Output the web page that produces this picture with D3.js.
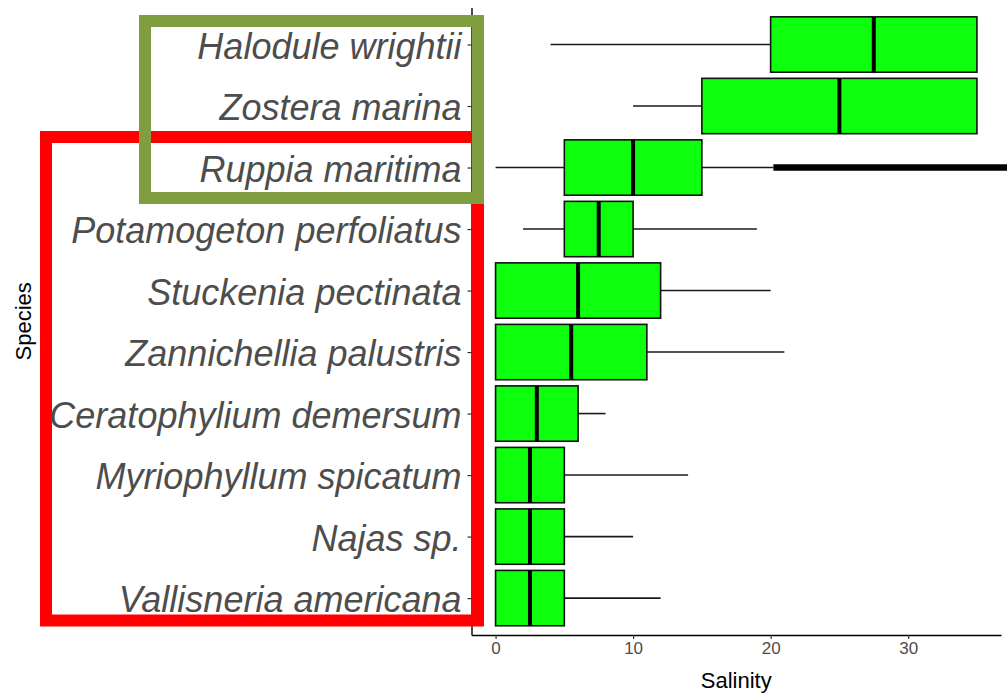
<!DOCTYPE html>
<html>
<head>
<meta charset="utf-8">
<script src="https://cdn.jsdelivr.net/npm/d3@7"></script>
<style>
  body { margin: 0; background: #fff; }
  svg { display: block; font-family: "Liberation Sans", Arial, sans-serif; }
</style>
</head>
<body>
<div class="boxChart"></div>
<script>
// species, top to bottom
var species = ["Halodule wrightii", "Zostera marina", "Ruppia maritima",
  "Potamogeton perfoliatus", "Stuckenia pectinata", "Zannichellia palustris",
  "Ceratophylium demersum", "Myriophyllum spicatum", "Najas sp.", "Vallisneria americana"];
// box stats (salinity)
var whiskerLow  = [4, 10, 0, 2, 0, 0, 0, 0, 0, 0];
var q1          = [20, 15, 5, 5, 0, 0, 0, 0, 0, 0];
var median      = [27.5, 25, 10, 7.5, 6, 5.5, 3, 2.5, 2.5, 2.5];
var q3          = [35, 35, 15, 10, 12, 11, 6, 5, 5, 5];
var whiskerHigh = [35, 35, 20.2, 19, 20, 21, 8, 14, 10, 12];
var xTicks = [0, 10, 20, 30];
// thick marker line drawn over the Ruppia row
var markerSpecies = "Ruppia maritima";
var markerFrom = 20.2, markerTo = 38;

var width = 1007, height = 694;
var plot = { left: 471.5, right: 1001, top: 7.6, bottom: 635 };

var svg = d3.select(".boxChart").append("svg")
  .attr("width", width).attr("height", height);

var x = d3.scaleLinear().domain([-1.75, 36.75]).range([plot.left, plot.right]);
var y = d3.scalePoint().domain(species).range([plot.top, plot.bottom]).padding(0.6);
var step = y.step();
var boxH = step * 0.9;

var rows = species.map(function(s, i) {
  return { name: s, lo: whiskerLow[i], q1: q1[i], med: median[i], q3: q3[i], hi: whiskerHigh[i] };
});

// whiskers
var g = svg.append("g");
rows.forEach(function(d) {
  var cy = y(d.name);
  if (d.lo < d.q1) {
    g.append("line").attr("x1", x(d.lo)).attr("x2", x(d.q1))
      .attr("y1", cy).attr("y2", cy).attr("stroke", "#1a1a1a").attr("stroke-width", 1.6);
  }
  if (d.hi > d.q3) {
    g.append("line").attr("x1", x(d.q3)).attr("x2", x(d.hi))
      .attr("y1", cy).attr("y2", cy).attr("stroke", "#1a1a1a").attr("stroke-width", 1.6);
  }
});

// boxes
g.selectAll("rect.box").data(rows).enter().append("rect")
  .attr("class", "box")
  .attr("x", function(d) { return x(d.q1); })
  .attr("y", function(d) { return y(d.name) - boxH / 2; })
  .attr("width", function(d) { return x(d.q3) - x(d.q1); })
  .attr("height", boxH)
  .attr("fill", "#0dff0d")
  .attr("stroke", "#111")
  .attr("stroke-width", 1.6);

// medians
g.selectAll("line.med").data(rows).enter().append("line")
  .attr("class", "med")
  .attr("x1", function(d) { return x(d.med); })
  .attr("x2", function(d) { return x(d.med); })
  .attr("y1", function(d) { return y(d.name) - boxH / 2; })
  .attr("y2", function(d) { return y(d.name) + boxH / 2; })
  .attr("stroke", "#000")
  .attr("stroke-width", 4);

// thick marker
svg.append("line")
  .attr("x1", x(markerFrom)).attr("x2", x(markerTo))
  .attr("y1", y(markerSpecies)).attr("y2", y(markerSpecies))
  .attr("stroke", "#000").attr("stroke-width", 6.5);

// x axis
var xAxis = svg.append("g")
  .attr("transform", "translate(0," + plot.bottom + ")")
  .call(d3.axisBottom(x).tickValues(xTicks).tickSize(4).tickPadding(3).tickSizeOuter(0));
xAxis.select(".domain").attr("stroke", "#000").attr("stroke-width", 1.4);
xAxis.selectAll(".tick line").attr("stroke", "#333").attr("stroke-width", 1.2);
xAxis.selectAll(".tick text").attr("fill", "#4d4d4d").style("font-size", "17px")
  .style("font-family", "'Liberation Sans', Arial, sans-serif");

// y axis
var yAxis = svg.append("g")
  .attr("transform", "translate(" + plot.left + ",0)")
  .call(d3.axisLeft(y).tickSize(4).tickPadding(6).tickSizeOuter(0));
yAxis.select(".domain").attr("stroke", "#000").attr("stroke-width", 1.4);
yAxis.selectAll(".tick line").attr("stroke", "#333").attr("stroke-width", 1.2);
yAxis.selectAll(".tick text").attr("fill", "#4d4d4d").style("font-size", "36px")
  .style("font-style", "italic").attr("dy", "0.38em")
  .style("font-family", "'Liberation Sans', Arial, sans-serif");

// axis titles
svg.append("text")
  .attr("x", (plot.left + plot.right) / 2).attr("y", 688)
  .attr("text-anchor", "middle").style("font-size", "22px").attr("fill", "#000")
  .text("Salinity");
svg.append("text")
  .attr("transform", "translate(31," + ((plot.top + plot.bottom) / 2) + ") rotate(-90)")
  .attr("text-anchor", "middle").style("font-size", "22px").attr("fill", "#000")
  .text("Species");

// highlight frames
svg.append("rect")
  .attr("x", 46).attr("y", 137).attr("width", 432).attr("height", 483.5)
  .attr("fill", "none").attr("stroke", "#ff0000").attr("stroke-width", 12);
svg.append("rect")
  .attr("x", 145).attr("y", 21).attr("width", 333).attr("height", 177)
  .attr("fill", "none").attr("stroke", "#809e40").attr("stroke-width", 12);
</script>
</body>
</html>
